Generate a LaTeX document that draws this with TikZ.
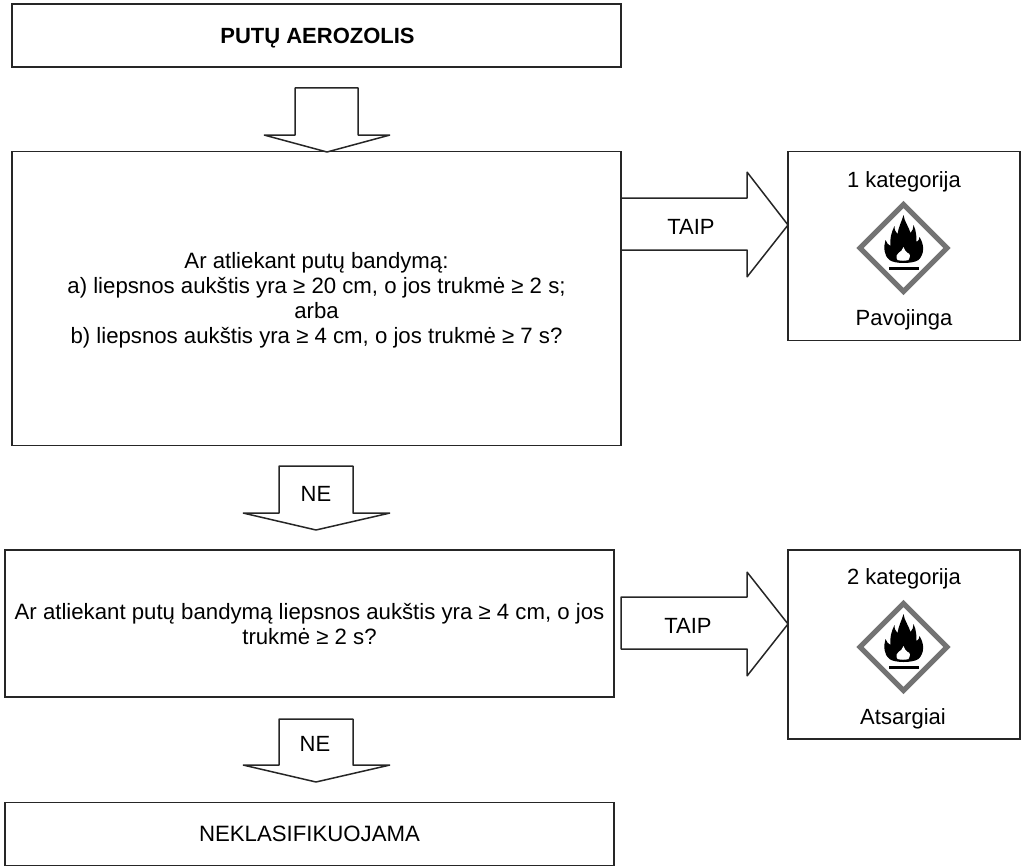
\documentclass[tikz,border=0pt]{standalone}
\usepackage{fontspec}
\setmainfont{Liberation Sans}
\tikzset{
  box/.style={draw=black!85,line width=1.5pt,fill=white,inner sep=0pt,align=center,font=\fontsize{22.2}{25}\selectfont},
  label/.style={inner sep=0pt,align=center,font=\fontsize{22}{25}\selectfont},
  blockarrow/.style={draw=black!85,line width=1.5pt,fill=white,line join=bevel},
  pics/hazard/.style={code={
    % diamond frame
    \draw[draw=black!55,line width=5pt,fill=white,line join=miter] (0,-43.5) -- (43.5,0) -- (0,43.5) -- (-43.5,0) -- cycle;
    % flame
    \fill[black] (0,-33) .. controls (1,-26) and (5,-22) .. (7,-15)
      .. controls (9,-17) and (10,-20) .. (10,-23)
      .. controls (13,-17) and (13,-10) .. (13,-6)
      .. controls (15,-7) and (16,-9) .. (16,-11)
      .. controls (21,-3) and (21,6) .. (15,12)
      .. controls (9,16) and (-9,16) .. (-14,12)
      .. controls (-20,7) and (-20,-1) .. (-18,-8)
      .. controls (-17,-5) and (-15,-3) .. (-13,-2)
      .. controls (-14,-9) and (-12,-16) .. (-9,-22)
      .. controls (-9,-18) and (-8,-16) .. (-6,-14)
      .. controls (-5,-21) and (-2,-26) .. (0,-33) -- cycle;
    % bright core of the flame
    \fill[white] (0,-1) .. controls (0,2) and (3,3) .. (4,5)
      .. controls (7,5) and (7,9) .. (5,12)
      .. controls (2,13) and (-3,13) .. (-6,12)
      .. controls (-8,9) and (-7,6) .. (-5,5)
      .. controls (-3,4) and (-1,2) .. (0,-1) -- cycle;
    % base line
    \fill[black] (-15,18.5) rectangle (15.5,21.5);
  }}
}
\begin{document}
\begin{tikzpicture}[x=1pt,y=-1pt]
\useasboundingbox (0,0) rectangle (1023,867);

% decision flow boxes
\node[box,minimum width=609pt,minimum height=63pt] (start) at (316.5,35.5) {};
\node[label,font=\fontsize{22}{25}\selectfont\bfseries] (starttext) at (317.5,38) {PUTŲ AEROZOLIS};
\node[box,minimum width=609pt,minimum height=294pt] (q1) at (316.5,298.5) {};
\node[label,font=\fontsize{22.2}{25}\selectfont] (q1text) at (316.5,300) {Ar atliekant putų bandymą:\\a) liepsnos aukštis yra ≥ 20 cm, o jos trukmė ≥ 2 s;\\arba\\b) liepsnos aukštis yra ≥ 4 cm, o jos trukmė ≥ 7 s?};
\node[box,minimum width=609pt,minimum height=147pt] (q2) at (309.5,623.5) {};
\node[label,font=\fontsize{22.2}{25}\selectfont] (q2text) at (309.5,624.5) {Ar atliekant putų bandymą liepsnos aukštis yra ≥ 4 cm, o jos\\trukmė ≥ 2 s?};
\node[box,minimum width=609pt,minimum height=63pt] (end) at (309.5,834) {NEKLASIFIKUOJAMA};

% hazard category boxes
\node[box,minimum width=232pt,minimum height=189pt] (cat1) at (904,246) {};
\node[box,minimum width=232pt,minimum height=189pt] (cat2) at (904,644.5) {};
\node[label] (cat1top) at (904,182) {1 kategorija};
\node[label] (cat1bot) at (904,320) {Pavojinga};
\node[label] (cat2top) at (904,579) {2 kategorija};
\node[label] (cat2bot) at (903,719) {Atsargiai};
\pic at (903.5,248) {hazard};
\pic at (903.5,647) {hazard};

% block arrows, downward
\draw[blockarrow] (295,88) -- (358,88) -- (358,135) -- (390,135) -- (327,152) -- (264,135) -- (295,135) -- cycle;
\draw[blockarrow] (279,466) -- (353,466) -- (353,513) -- (390,513) -- (316,530) -- (243,513) -- (279,513) -- cycle;
\draw[blockarrow] (279,719) -- (353,719) -- (353,765) -- (390,765) -- (316,782) -- (243,765) -- (279,765) -- cycle;
% block arrows, rightward
\draw[blockarrow] (621,198) -- (747,198) -- (747,172) -- (788,225) -- (747,277) -- (747,250) -- (621,250) -- cycle;
\draw[blockarrow] (621,597) -- (747,597) -- (747,572) -- (788,624) -- (747,676) -- (747,649) -- (621,649) -- cycle;

% arrow captions
\node[label] (yes1) at (691,227) {TAIP};
\node[label] (yes2) at (688,626) {TAIP};
\node[label] (no1) at (316,494) {NE};
\node[label] (no2) at (315,744) {NE};
\end{tikzpicture}
\end{document}
